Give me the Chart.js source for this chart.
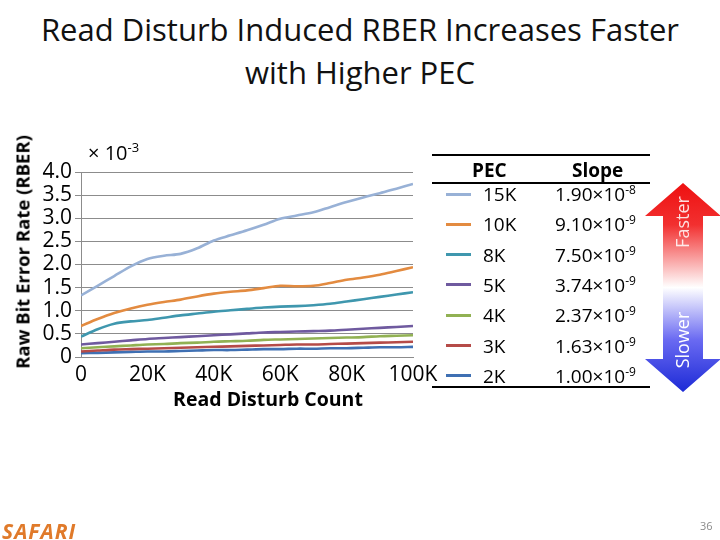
<!DOCTYPE html>
<html>
<head>
<meta charset="utf-8">
<script src="https://cdn.jsdelivr.net/npm/chart.js@4.4.1/dist/chart.umd.min.js"></script>
<style>
  html, body { margin: 0; padding: 0; background: #fff; }
  body { width: 720px; height: 540px; position: relative; overflow: hidden; font-family: "Open Sans", sans-serif; }
  .abs { position: absolute; white-space: nowrap; }
  #title { left: 0; width: 720px; top: 8px; text-align: center; font-size: 31px; line-height: 43px; color: #111; letter-spacing: 0px; }
  #chartBox { position: absolute; left: 0; top: 140px; width: 440px; height: 280px; }
  #yTitle { left: 22px; top: 252px; transform: translate(-50%, -50%) rotate(-90deg); font-weight: bold; font-size: 18.5px; }
  #xTitle { left: 268px; top: 398px; transform: translate(-50%, -50%); font-weight: bold; font-size: 19.5px; }
  #mult { left: 88px; top: 138px; font-size: 20px; }
  #mult sup { font-size: 13px; }
  .rule { position: absolute; left: 432px; width: 218px; height: 2px; background: #000; }
  .cell { position: absolute; transform: translateY(-50%); font-size: 19px; white-space: nowrap; }
  .cell sup { font-size: 12px; }
  .swatch { position: absolute; left: 446px; width: 25px; height: 3px; }
  #safari { left: 2px; top: 517px; font-size: 21px; font-weight: bold; font-style: italic; color: #e07a2a; letter-spacing: 1px; }
  #page { left: 700px; top: 518px; font-size: 11px; color: #8a8a8a; }
</style>
</head>
<body>
<div id="title" class="abs">Read Disturb Induced RBER Increases Faster<br>with Higher PEC</div>
<div id="chartBox"><canvas id="rberChart"></canvas></div>
<div id="yTitle" class="abs">Raw Bit Error Rate (RBER)</div>
<div id="xTitle" class="abs">Read Disturb Count</div>
<div id="mult" class="abs">&times; 10<sup>-3</sup></div>
<div id="legend"></div>
<svg class="abs" style="left:0;top:0" width="720" height="540">
  <defs>
    <linearGradient id="arrowGrad" x1="0" y1="183" x2="0" y2="392" gradientUnits="userSpaceOnUse">
      <stop offset="0" stop-color="#ee1010"/>
      <stop offset="0.2" stop-color="#f23030"/>
      <stop offset="0.5" stop-color="#ffffff"/>
      <stop offset="0.75" stop-color="#6a6af2"/>
      <stop offset="1" stop-color="#1c2ad6"/>
    </linearGradient>
  </defs>
  <polygon fill="url(#arrowGrad)" points="683,183 721,216 703,216 703,359 721,359 683,392 645,359 663,359 663,216 645,216"/>
  <text x="0" y="0" transform="translate(689,222) rotate(-90)" text-anchor="middle" font-family="Open Sans" font-size="18" fill="rgba(255,255,255,0.85)">Faster</text>
  <text x="0" y="0" transform="translate(689,340) rotate(-90)" text-anchor="middle" font-family="Open Sans" font-size="18" fill="#ffffff">Slower</text>
</svg>
<div id="safari" class="abs">SAFARI</div>
<div id="page" class="abs">36</div>
<script>
// Read disturb count (x values)
const readCounts = [0, 5000, 10000, 15000, 20000, 25000, 30000, 35000, 40000, 45000, 50000,
  55000, 60000, 65000, 70000, 75000, 80000, 85000, 90000, 95000, 100000];

// RBER, in units of 10^-3
const rber15K = [1.33, 1.54, 1.75, 1.96, 2.12, 2.19, 2.23, 2.35, 2.52, 2.63, 2.74, 2.86, 2.99, 3.06, 3.13, 3.24, 3.35, 3.45, 3.54, 3.64, 3.74];
const rber10K = [0.67, 0.82, 0.95, 1.05, 1.13, 1.19, 1.24, 1.31, 1.37, 1.41, 1.44, 1.49, 1.54, 1.53, 1.54, 1.60, 1.67, 1.72, 1.78, 1.86, 1.94];
const rber8K = [0.44, 0.60, 0.72, 0.77, 0.80, 0.85, 0.90, 0.94, 0.98, 1.01, 1.04, 1.07, 1.09, 1.10, 1.12, 1.15, 1.20, 1.25, 1.30, 1.35, 1.40];
const rber5K = [0.27, 0.30, 0.33, 0.36, 0.39, 0.41, 0.43, 0.45, 0.47, 0.49, 0.51, 0.53, 0.54, 0.55, 0.56, 0.57, 0.59, 0.61, 0.63, 0.65, 0.67];
const rber4K = [0.19, 0.21, 0.23, 0.25, 0.27, 0.28, 0.30, 0.31, 0.33, 0.34, 0.35, 0.37, 0.38, 0.39, 0.40, 0.41, 0.42, 0.43, 0.45, 0.46, 0.47];
const rber3K = [0.12, 0.14, 0.16, 0.17, 0.18, 0.19, 0.20, 0.21, 0.22, 0.23, 0.24, 0.25, 0.26, 0.27, 0.27, 0.28, 0.29, 0.30, 0.31, 0.32, 0.33];
const rber2K = [0.08, 0.09, 0.10, 0.11, 0.12, 0.12, 0.13, 0.14, 0.15, 0.15, 0.16, 0.17, 0.17, 0.18, 0.18, 0.19, 0.19, 0.20, 0.21, 0.21, 0.22];

// Legend table
const pecLabels = ["15K", "10K", "8K", "5K", "4K", "3K", "2K"];
const slopeMantissa = ["1.90", "9.10", "7.50", "3.74", "2.37", "1.63", "1.00"];
const slopeExponent = ["-8", "-9", "-9", "-9", "-9", "-9", "-9"];
const seriesColors = ["#98b1d6", "#e38b40", "#3f97ae", "#6f5a9f", "#91b153", "#b54b48", "#3f70b3"];
const seriesData = [rber15K, rber10K, rber8K, rber5K, rber4K, rber3K, rber2K];

const gridColor = "#8c8c8c";
const tickFont = { family: "Open Sans", size: 21 };

// build legend table
const legend = document.getElementById("legend");
let html = '<div class="rule" style="top:154px"></div><div class="rule" style="top:182px"></div><div class="rule" style="top:386px"></div>';
html += '<div class="cell" style="left:472px;top:170px;font-weight:bold">PEC</div>';
html += '<div class="cell" style="left:572px;top:170px;font-weight:bold">Slope</div>';
pecLabels.forEach((p, i) => {
  const y = 194 + i * 30.3;
  html += `<div class="swatch" style="top:${y - 1.5}px;background:${seriesColors[i]}"></div>`;
  html += `<div class="cell" style="left:483px;top:${y}px">${p}</div>`;
  html += `<div class="cell" style="left:555px;top:${y}px">${slopeMantissa[i]}&times;10<sup>${slopeExponent[i]}</sup></div>`;
});
legend.innerHTML = html;

const ctx = document.getElementById("rberChart");
const rberChart = new Chart(ctx, {
  type: "line",
  data: {
    datasets: pecLabels.map((p, i) => ({
      label: p,
      data: readCounts.map((x, j) => ({ x: x, y: seriesData[i][j] })),
      borderColor: seriesColors[i],
      borderWidth: 2.6,
      pointRadius: 0,
      tension: 0.3,
      fill: false,
    })),
  },
  options: {
    responsive: true,
    maintainAspectRatio: false,
    animation: false,
    layout: { padding: { top: 32, right: 27, bottom: 0, left: 0 } },
    plugins: {
      legend: { display: false },
      title: { display: false },
      tooltip: { enabled: false },
    },
    scales: {
      x: {
        type: "linear",
        min: 0,
        max: 100000,
        afterFit: (scale) => { scale.height = 63; },
        ticks: {
          stepSize: 20000,
          autoSkip: false,
          color: "#000",
          font: tickFont,
          padding: 0,
          maxRotation: 0,
          callback: (v) => (v === 0 ? "0" : v / 1000 + "K"),
        },
        grid: { display: false, drawOnChartArea: false, tickLength: 5, color: gridColor },
        border: { color: gridColor, width: 1 },
      },
      y: {
        min: 0,
        max: 4,
        afterFit: (scale) => { scale.width = 81; },
        ticks: {
          stepSize: 0.5,
          autoSkip: false,
          color: "#000",
          font: tickFont,
          padding: 3,
          callback: (v) => (v === 0 ? "0" : v.toFixed(1)),
        },
        grid: { color: gridColor, tickLength: 6, lineWidth: 1 },
        border: { color: gridColor, width: 1 },
      },
    },
  },
});
</script>
</body>
</html>
